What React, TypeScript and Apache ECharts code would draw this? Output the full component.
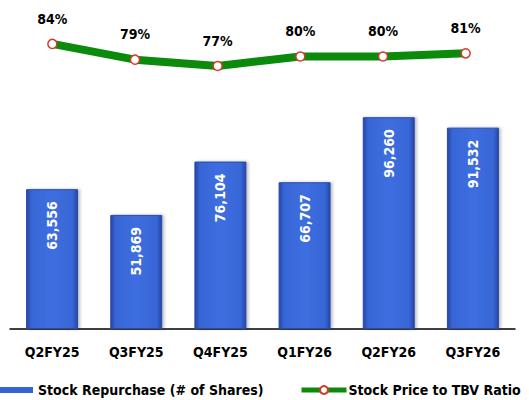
import React, { useEffect, useRef } from "react";
import * as echarts from "echarts";

// Quarters shown on the category axis
const quarters = ["Q2FY25", "Q3FY25", "Q4FY25", "Q1FY26", "Q2FY26", "Q3FY26"];
// Shares bought back per quarter
const repurchaseShares = [63556, 51869, 76104, 66707, 96260, 91532];
// Stock price to tangible book value ratio (%)
const priceToTbv = [84, 79, 77, 80, 80, 81];

const BAR_NAME = "Stock Repurchase (# of Shares)";
const LINE_NAME = "Stock Price to TBV Ratio";
const FONT = "'DejaVu Sans Condensed', 'DejaVu Sans', sans-serif";

export default function App() {
  const ref = useRef<HTMLDivElement>(null);

  useEffect(() => {
    if (!ref.current) return;
    const chart = echarts.init(ref.current, null, { renderer: "svg" });
    chart.setOption({
      animation: false,
      backgroundColor: "#ffffff",
      textStyle: { fontFamily: FONT },
      grid: [
        { left: 10, right: 14, top: 109, bottom: 71 },
        { left: 11, right: 22, top: 25, height: 63 },
      ],
      xAxis: [
        {
          type: "category",
          gridIndex: 0,
          data: quarters,
          axisLine: { lineStyle: { color: "#000000", width: 1.5 } },
          axisTick: { show: false },
          axisLabel: {
            color: "#000000",
            fontFamily: FONT,
            fontWeight: "bold",
            fontSize: 14,
            margin: 16,
          },
        },
        {
          type: "category",
          gridIndex: 1,
          data: quarters,
          show: false,
        },
      ],
      yAxis: [
        { type: "value", gridIndex: 0, min: 0, max: 100000, show: false },
        { type: "value", gridIndex: 1, min: 70, max: 90, show: false },
      ],
      legend: [
        {
          data: [{ name: BAR_NAME, icon: "rect", itemStyle: { borderWidth: 0, color: "#3563d6" } }],
          left: 0,
          top: 383,
          padding: 0,
          itemWidth: 33,
          itemHeight: 6,
          textStyle: { color: "#000", fontFamily: FONT, fontWeight: "bold", fontSize: 14 },
        },
        {
          data: [LINE_NAME],
          left: 299,
          top: 383,
          padding: 0,
          itemWidth: 45,
          itemHeight: 10,
          lineStyle: { width: 5 },
          textStyle: { color: "#000", fontFamily: FONT, fontWeight: "bold", fontSize: 14, padding: [0, 0, 0, -3] },
        },
      ],
      series: [
        {
          name: BAR_NAME,
          type: "bar",
          xAxisIndex: 0,
          yAxisIndex: 0,
          data: repurchaseShares,
          barWidth: 52,
          itemStyle: {
            color: new echarts.graphic.LinearGradient(0, 0, 1, 0, [
              { offset: 0, color: "#2646a6" },
              { offset: 0.1, color: "#3866d6" },
              { offset: 0.5, color: "#3d6ee0" },
              { offset: 0.9, color: "#3866d6" },
              { offset: 1, color: "#2646a6" },
            ]),
            borderColor: "#2a4aa8",
            borderWidth: 1,
            shadowColor: "rgba(0,0,0,0.25)",
            shadowBlur: 3,
            shadowOffsetX: 2,
            shadowOffsetY: 0,
          },
          label: {
            show: true,
            position: "insideTop",
            distance: 12,
            rotate: 90,
            align: "right",
            verticalAlign: "middle",
            color: "#ffffff",
            fontFamily: FONT,
            fontWeight: "bold",
            fontSize: 14,
            formatter: (p: any) => Number(p.value).toLocaleString("en-US"),
          },
        },
        {
          name: LINE_NAME,
          type: "line",
          xAxisIndex: 1,
          yAxisIndex: 1,
          data: priceToTbv,
          symbol: "circle",
          symbolSize: 9,
          lineStyle: { color: "#0b8a0b", width: 8 },
          itemStyle: { color: "#ffffff", borderColor: "#d63a2a", borderWidth: 1.5 },
          label: {
            show: true,
            position: "top",
            distance: 13,
            color: "#000000",
            fontFamily: FONT,
            fontWeight: "bold",
            fontSize: 14,
            formatter: (p: any) => `${p.value}%`,
          },
        },
      ],
    });
    return () => chart.dispose();
  }, []);

  return (
    <div
      ref={ref}
      style={{ position: "absolute", left: 0, top: 0, width: 529, height: 400 }}
    />
  );
}
